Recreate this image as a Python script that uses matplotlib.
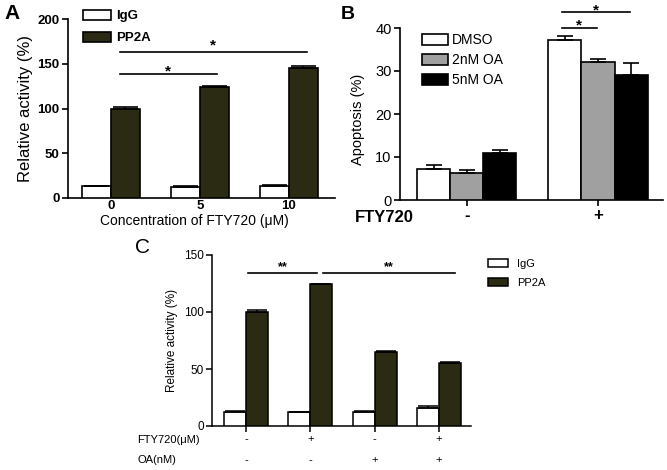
import numpy as np
import matplotlib
matplotlib.use("Agg")
import matplotlib.pyplot as plt

plt.rcParams['font.family'] = ['Liberation Sans', 'DejaVu Sans']

# panel A: PP2A activity vs FTY720 concentration
a_groups = ['0', '5', '10']
a_igg = [13, 12.5, 13.5]
a_igg_err = [0.4, 0.5, 0.5]
a_pp2a = [100, 124, 145]
a_pp2a_err = [1.5, 1.0, 2.0]

# panel B: apoptosis
b_groups = ['-', '+']
b_series = ['DMSO', '2nM OA', '5nM OA']
b_dmso = [7.3, 37.3]
b_dmso_err = [0.9, 0.9]
b_2nm = [6.3, 32.0]
b_2nm_err = [0.7, 0.9]
b_5nm = [11.0, 29.0]
b_5nm_err = [0.6, 2.9]

# panel C: PP2A activity with FTY720 / OA
c_fty = ['-', '+', '-', '+']
c_oa = ['-', '-', '+', '+']
c_igg = [12.5, 12, 12.5, 15.5]
c_igg_err = [0.3, 0.5, 0.6, 2.0]
c_pp2a = [100.3, 124.3, 65, 55]
c_pp2a_err = [1.4, 0.7, 0.8, 1.0]

PP2A_COLOR = '#2b2a12'
W, H = 667, 470


def px_axes(fig, left, top, right, bottom):
    """Axes from pixel box (top-left origin)."""
    return fig.add_axes([left / W, 1 - bottom / H, (right - left) / W, (bottom - top) / H])


def up_err(ax, x, y, err, capsize, lw=1.2):
    ax.errorbar(x, y, yerr=[np.zeros(len(err)), err], fmt='none', ecolor='black',
                elinewidth=lw, capsize=capsize, capthick=lw, zorder=4)


def sig(ax, x0, x1, y, text, ty, fs):
    """Bracket line with star text; ty is the text baseline."""
    ax.plot([x0, x1], [y, y], color='black', lw=1.2, clip_on=False)
    ax.text((x0 + x1) / 2, ty, text, ha='center', va='baseline', fontsize=fs,
            fontweight='bold', clip_on=False)


def style(ax, lw=1.2):
    for s in ['top', 'right']:
        ax.spines[s].set_visible(False)
    for s in ['left', 'bottom']:
        ax.spines[s].set_linewidth(lw)


fig = plt.figure(figsize=(W / 100, H / 100), dpi=100)

# ---------------- A ----------------
ax = px_axes(fig, 68, 19, 335, 198)
style(ax)
x = np.arange(len(a_groups))
bw = 0.326
ax.bar(x - bw / 2, a_igg, bw, color='white', edgecolor='black', lw=1.2, label='IgG', zorder=3)
ax.bar(x + bw / 2, a_pp2a, bw, color=PP2A_COLOR, edgecolor='black', lw=1.2, label='PP2A', zorder=3)
up_err(ax, x - bw / 2, a_igg, a_igg_err, 9)
up_err(ax, x + bw / 2, a_pp2a, a_pp2a_err, 9)
ax.set_xlim(-0.483, 2.517)
ax.set_ylim(0, 200)
ax.set_yticks([0, 50, 100, 150, 200])
ax.set_xticks(x)
ax.set_xticklabels(a_groups)
ax.tick_params(axis='x', length=0, pad=1.5)
ax.tick_params(axis='y', length=4, width=1.2, pad=2)
for t in ax.get_xticklabels() + ax.get_yticklabels():
    t.set_fontweight('bold')
    t.set_fontsize(9.5)
ax.set_ylabel('Relative activity (%)', fontsize=12)
ax.yaxis.set_label_coords(-0.131, 0.5)
ax.set_xlabel('Concentration of FTY720 (\u03bcM)', fontsize=10)
ax.xaxis.set_label_coords(0.472, -0.09)
sig(ax, 0.1, 1.19, 138.5, '*', 136.5, 11)
sig(ax, 0.1, 2.2, 163, '*', 165.5, 11)
leg = ax.legend(loc='upper left', bbox_to_anchor=(83 / W, 1 - 10 / H), bbox_transform=fig.transFigure,
                frameon=False, borderpad=0, borderaxespad=0, handlelength=2.1, handleheight=0.75,
                handletextpad=0.4, labelspacing=0.72, prop={'weight': 'bold', 'size': 9.5})
fig.text(4 / W, 1 - 4 / H, 'A', fontsize=15, fontweight='bold', va='top', ha='left')

# ---------------- B ----------------
ax = px_axes(fig, 400, 28, 663, 200)
style(ax)
x = np.arange(len(b_groups))
bw = 0.252
vals = [b_dmso, b_2nm, b_5nm]
errs = [b_dmso_err, b_2nm_err, b_5nm_err]
colors = ['white', '#a0a0a0', 'black']
for i in range(3):
    xi = x + (i - 1) * bw
    ax.bar(xi, vals[i], bw, color=colors[i], edgecolor='black', lw=1.2, label=b_series[i], zorder=3)
    up_err(ax, xi, vals[i], errs[i], 6)
ax.set_xlim(-0.511, 1.496)
ax.set_ylim(0, 40)
ax.set_yticks([0, 10, 20, 30, 40])
ax.set_xticks(x)
ax.set_xticklabels(b_groups, fontweight='bold', fontsize=12)
ax.tick_params(axis='x', length=4, width=1.2, pad=2)
ax.tick_params(axis='y', length=4, width=1.2, labelsize=10.5, pad=2)
ax.set_ylabel('Apoptosis (%)', fontsize=10.5)
ax.yaxis.set_label_coords(-0.133, 0.47)
fig.text(355 / W, 1 - 217 / H, 'FTY720', fontsize=12, fontweight='bold', va='center', ha='left')
sig(ax, 0.725, 0.99, 40.0, '*', 39.6, 11)
sig(ax, 0.725, 1.244, 43.7, '*', 43.1, 11)
ax.legend(loc='upper left', bbox_to_anchor=(422 / W, 1 - 33 / H), bbox_transform=fig.transFigure,
          frameon=False, borderpad=0, borderaxespad=0, handlelength=1.87, handleheight=0.86,
          handletextpad=0.3, labelspacing=0.44, prop={'size': 10})
fig.text(341 / W, 1 - 6 / H, 'B', fontsize=14, fontweight='bold', va='top', ha='left')

# ---------------- C ----------------
ax = px_axes(fig, 212, 255, 471, 426)
style(ax, 1.1)
x = np.arange(len(c_fty))
bw = 0.342
ax.bar(x - bw / 2, c_igg, bw, color='white', edgecolor='black', lw=1.1, label='IgG', zorder=3)
ax.bar(x + bw / 2, c_pp2a, bw, color=PP2A_COLOR, edgecolor='black', lw=1.1, label='PP2A', zorder=3)
up_err(ax, x - bw / 2, c_igg, c_igg_err, 7, 1.1)
up_err(ax, x + bw / 2, c_pp2a, c_pp2a_err, 7, 1.1)
ax.set_xlim(-0.529, 3.5)
ax.set_ylim(0, 150)
ax.set_yticks([0, 50, 100, 150])
ax.set_xticks(x)
ax.set_xticklabels(c_fty, fontsize=8)
ax.tick_params(axis='x', length=4, width=1.1, pad=2)
ax.tick_params(axis='y', length=4, width=1.1, labelsize=8.5, pad=2)
for xi, lab in zip(x, c_oa):
    ax.text(xi, -34 / 171, lab, transform=ax.get_xaxis_transform(), ha='center', va='center', fontsize=8)
ax.set_ylabel('Relative activity (%)', fontsize=8.5)
ax.yaxis.set_label_coords(-0.131, 0.5)
fig.text(137 / W, 1 - 440 / H, 'FTY720(\u03bcM)', fontsize=8, va='center', ha='left')
fig.text(137 / W, 1 - 460 / H, 'OA(nM)', fontsize=8, va='center', ha='left')
sig(ax, 0.03, 1.1, 134, '**', 136.5, 9)
sig(ax, 1.2, 3.25, 134, '**', 136.5, 9)
ax.legend(loc='upper left', bbox_to_anchor=(488 / W, 1 - 259 / H), bbox_transform=fig.transFigure,
          frameon=False, borderpad=0, borderaxespad=0, handlelength=1.8, handleheight=0.65,
          handletextpad=0.8, labelspacing=0.8, prop={'size': 8})
fig.text(135 / W, 1 - 238 / H, 'C', fontsize=15, va='top', ha='left')

fig.savefig('out.png', dpi=100)
